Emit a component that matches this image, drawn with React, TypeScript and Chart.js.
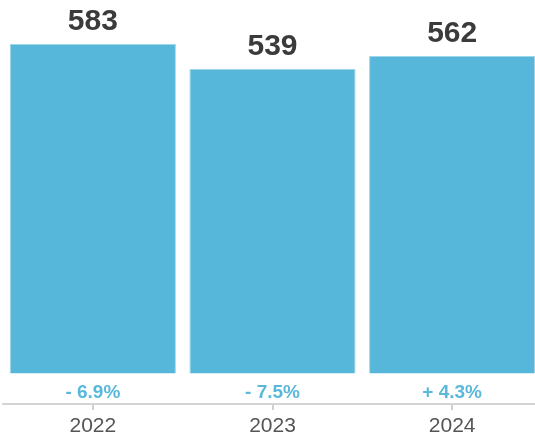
import React, { useEffect, useRef } from "react";
import { Chart, registerables } from "chart.js";

Chart.register(...registerables);

const categories = ["2022", "2023", "2024"];
const values = [583, 539, 562];
const changeLabels = ["- 6.9%", "- 7.5%", "+ 4.3%"];

const FONT = "'Liberation Sans', Arial, Helvetica, sans-serif";

const labelPlugin = {
  id: "barLabels",
  afterDatasetsDraw(chart: any) {
    const ctx = chart.ctx;
    const meta = chart.getDatasetMeta(0);
    const yScale = chart.scales.y;
    const zeroY = yScale.getPixelForValue(0);
    ctx.save();
    ctx.textAlign = "center";
    ctx.textBaseline = "alphabetic";
    meta.data.forEach((bar: any, i: number) => {
      ctx.font = `bold 30px ${FONT}`;
      ctx.fillStyle = "#3b3b3b";
      ctx.fillText(String(values[i]), bar.x, bar.y - 14);
      ctx.font = `bold 19px ${FONT}`;
      ctx.fillStyle = "#5ab8db";
      ctx.fillText(changeLabels[i], bar.x, zeroY + 25);
    });
    ctx.restore();
  },
};

export default function App() {
  const ref = useRef<HTMLCanvasElement>(null);
  useEffect(() => {
    if (!ref.current) return;
    const chart = new Chart(ref.current, {
      type: "bar",
      data: {
        labels: categories,
        datasets: [
          {
            data: values,
            backgroundColor: "#57b7da",
            borderColor: "#9fd5ea",
            borderWidth: 1,
            categoryPercentage: 1,
            barPercentage: 0.925,
          },
        ],
      },
      options: {
        responsive: false,
        animation: false,
        devicePixelRatio: 1,
        layout: { padding: { left: 3, right: 0, top: 0, bottom: 0 } },
        plugins: {
          legend: { display: false },
          tooltip: { enabled: false },
        },
        scales: {
          y: {
            display: false,
            min: -54,
            max: 661,
          },
          x: {
            afterFit: (scale: any) => {
              scale.height = 36;
            },
            grid: {
              display: true,
              offset: false,
              drawOnChartArea: false,
              drawTicks: true,
              tickLength: 6,
              color: "#d0d0d0",
              lineWidth: 2,
            },
            border: { display: true, color: "#d4d4d4", width: 2 },
            ticks: {
              color: "#555555",
              font: { family: FONT, size: 21 },
              padding: 4,
            },
          },
        },
      },
      plugins: [labelPlugin],
    });
    return () => chart.destroy();
  }, []);
  return (
    <div
      style={{
        position: "absolute",
        left: 0,
        top: 0,
        width: 535,
        height: 440,
        overflow: "hidden",
      }}
    >
      <canvas ref={ref} width={542} height={440} style={{ display: "block" }} />
    </div>
  );
}
